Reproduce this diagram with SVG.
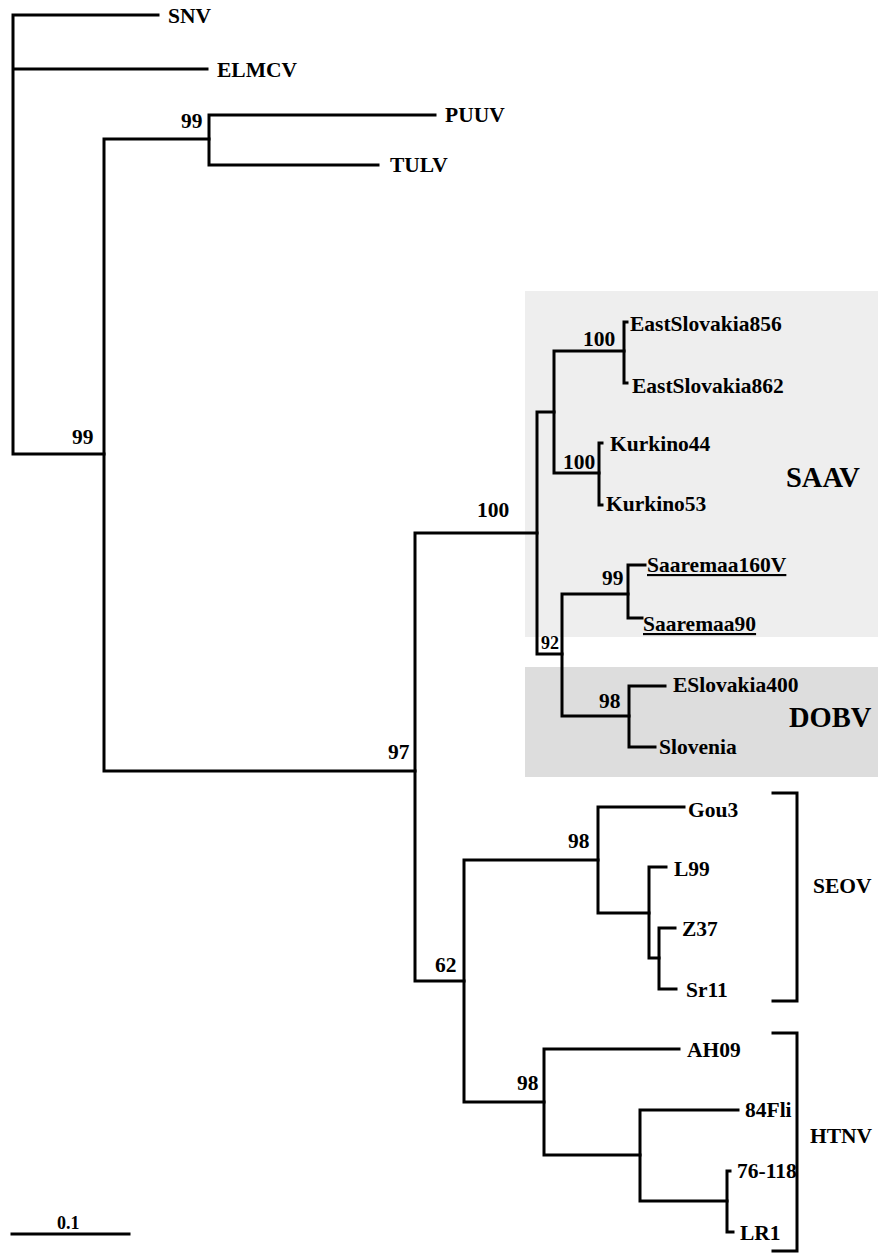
<svg xmlns="http://www.w3.org/2000/svg" width="880" height="1253" viewBox="0 0 880 1253">
<style>
.e{fill:none;stroke:#000;stroke-width:3;stroke-linecap:square;stroke-linejoin:miter}
text{font-family:"Liberation Serif","Times New Roman",serif;font-weight:bold;fill:#000}
.t{font-size:21.5px}
.b{font-size:21.5px}
.big{font-size:28.5px}
.u{text-decoration:underline}
</style>
<rect width="880" height="1253" fill="#fff"/>
<g id="clade-SAAV"><rect x="525" y="291" width="353" height="346" fill="#eeeeee"/><text class="big" x="786" y="487">SAAV</text></g>
<g id="clade-DOBV"><rect x="525" y="667" width="353" height="110" fill="#dddddd"/><text class="big" x="789" y="727">DOBV</text></g>
<g id="connectors">
<path class="e" d="M158,15H13V454H104 M13,69H207"/>
<path class="e" d="M209,139H104V771H415"/>
<path class="e" d="M435,115H209V165H378"/>
<path class="e" d="M537,533H415V981H464"/>
<path class="e" d="M554,412H537V654H562"/>
<path class="e" d="M624,351H554V473H599"/>
<path class="e" d="M627,322H624V383H627"/>
<path class="e" d="M602,443H599V505H602"/>
<path class="e" d="M628,594H562V716H629"/>
<path class="e" d="M645,565H628V618H642"/>
<path class="e" d="M665,686H629V747H655"/>
<path class="e" d="M598,860H464V1102H544"/>
<path class="e" d="M684,807H598V913H649"/>
<path class="e" d="M666,867H649V958H659"/>
<path class="e" d="M675,928H659V989H676"/>
<path class="e" d="M679,1049H544V1155H640"/>
<path class="e" d="M738,1110H640V1201H727"/>
<path class="e" d="M730,1171H727V1232H733"/>
<path class="e" d="M773,793H797V1001H773"/>
<path class="e" d="M773,1033H797V1251H773"/>
<path class="e" d="M12,1234H129"/>
</g>
<g id="n-root"><text class="b" x="72" y="444">99</text></g>
<g id="n-PT"><text class="b" x="181" y="128">99</text></g>
<g id="n-97"><text class="b" x="388" y="759">97</text></g>
<g id="n-100a"><text class="b" x="477" y="517">100</text></g>
<g id="n-92"><text x="541" y="649" font-size="18">92</text></g>
<g id="n-100b"><text class="b" x="583" y="346">100</text></g>
<g id="n-100c"><text class="b" x="563" y="469">100</text></g>
<g id="n-99s"><text class="b" x="602" y="585">99</text></g>
<g id="n-98d"><text class="b" x="599" y="708">98</text></g>
<g id="n-62"><text class="b" x="435" y="972">62</text></g>
<g id="n-98s"><text class="b" x="568" y="848">98</text></g>
<g id="n-98h"><text class="b" x="517" y="1090">98</text></g>
<g id="SNV"><text class="t" x="168" y="23">SNV</text></g>
<g id="ELMCV"><text class="t" x="217" y="77">ELMCV</text></g>
<g id="PUUV"><text class="t" x="445" y="122">PUUV</text></g>
<g id="TULV"><text class="t" x="390" y="172">TULV</text></g>
<g id="EastSlovakia856"><text class="t" x="630" y="331">EastSlovakia856</text></g>
<g id="EastSlovakia862"><text class="t" x="632" y="393">EastSlovakia862</text></g>
<g id="Kurkino44"><text class="t" x="610" y="451">Kurkino44</text></g>
<g id="Kurkino53"><text class="t" x="606" y="511">Kurkino53</text></g>
<g id="Saaremaa160V"><text class="t u" x="647" y="572">Saaremaa160V</text></g>
<g id="Saaremaa90"><text class="t u" x="643" y="631">Saaremaa90</text></g>
<g id="ESlovakia400"><text class="t" x="673" y="692">ESlovakia400</text></g>
<g id="Slovenia"><text class="t" x="659" y="754">Slovenia</text></g>
<g id="Gou3"><text class="t" x="688" y="817">Gou3</text></g>
<g id="L99"><text class="t" x="674" y="876">L99</text></g>
<g id="Z37"><text class="t" x="682" y="936">Z37</text></g>
<g id="Sr11"><text class="t" x="686" y="997">Sr11</text></g>
<g id="AH09"><text class="t" x="687" y="1057">AH09</text></g>
<g id="84Fli"><text class="t" x="745" y="1117">84Fli</text></g>
<g id="76-118"><text class="t" x="737" y="1178">76-118</text></g>
<g id="LR1"><text class="t" x="740" y="1240">LR1</text></g>
<g id="SEOV"><text class="t" x="813" y="893">SEOV</text></g>
<g id="HTNV"><text class="t" x="810" y="1143">HTNV</text></g>
<g id="scale"><text x="57" y="1229" font-size="18">0.1</text></g>
</svg>
